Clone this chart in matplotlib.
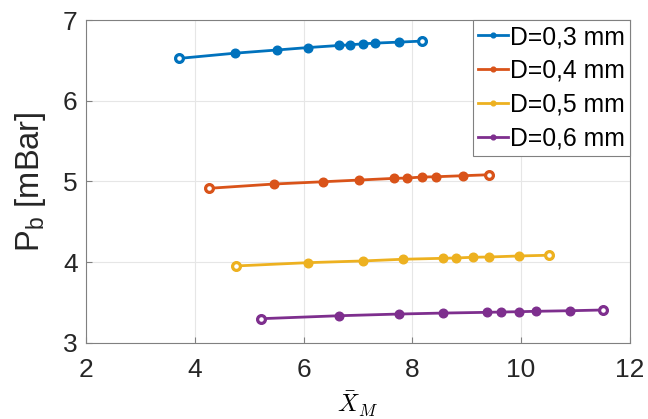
import numpy as np
import matplotlib.pyplot as plt

plt.rcParams['font.family'] = ['Liberation Sans', 'DejaVu Sans']

x03 = [3.71, 4.74, 5.52, 6.09, 6.66, 6.86, 7.09, 7.32, 7.75, 8.18]
p03 = [6.525, 6.59, 6.63, 6.66, 6.686, 6.694, 6.706, 6.715, 6.727, 6.74]
x04 = [4.27, 5.46, 6.36, 7.02, 7.67, 7.90, 8.17, 8.43, 8.94, 9.41]
p04 = [4.915, 4.968, 4.996, 5.017, 5.038, 5.042, 5.054, 5.058, 5.071, 5.083]
x05 = [4.76, 6.09, 7.09, 7.82, 8.57, 8.81, 9.12, 9.41, 9.97, 10.51]
p05 = [3.952, 3.993, 4.014, 4.035, 4.047, 4.051, 4.060, 4.063, 4.076, 4.085]
x06 = [5.21, 6.66, 7.76, 8.56, 9.37, 9.63, 9.97, 10.28, 10.90, 11.50]
p06 = [3.298, 3.335, 3.356, 3.368, 3.377, 3.381, 3.385, 3.390, 3.397, 3.406]

labels = ['D=0,3 mm', 'D=0,4 mm', 'D=0,5 mm', 'D=0,6 mm']
colors = ['#0072BD', '#D95319', '#EDB120', '#7E2F8E']

fig = plt.figure(figsize=(6.48, 4.19), dpi=100)
ax = fig.add_axes([0.1327, 0.182, 0.8393, 0.770])

for xs, ps, lab, c in zip([x03, x04, x05, x06], [p03, p04, p05, p06], labels, colors):
    xs = np.array(xs)
    ps = np.array(ps)
    ax.plot(xs, ps, '-o', color=c, lw=2, ms=6.2, label=lab)
    # end points drawn with white centre
    ax.plot(xs[[0, -1]], ps[[0, -1]], 'o', color=c, mfc='white', mew=2.3, ms=5.6)

ax.set_xlim(2, 12)
ax.set_ylim(3, 7)
ax.set_xticks([2, 4, 6, 8, 10, 12])
ax.set_yticks([3, 4, 5, 6, 7])
ax.grid(True, color='#e6e6e6', lw=0.8)
ax.set_axisbelow(True)
for s in ax.spines.values():
    s.set_color('#808080')
    s.set_linewidth(0.8)
ax.tick_params(labelsize=19, colors='#808080', labelcolor='#262626', length=4, width=0.8,
               direction='in', top=False, right=False)
ax.tick_params(axis='x', pad=11)
ax.tick_params(axis='y', pad=6)
ax.set_xlabel(r'$\bar{X}_M$', fontsize=17.5, math_fontfamily='cm', labelpad=6)
ax.set_ylabel(r'P$_{\mathregular{b}}$ [mBar]', fontsize=23.5, color='#262626', labelpad=11)

leg = ax.legend(loc='upper right', fontsize=17.8, handlelength=1.2, handletextpad=0.1,
                borderpad=0.2, labelspacing=0.4, borderaxespad=0.0, fancybox=False,
                markerscale=0.55)
leg.get_frame().set_edgecolor('#808080')
leg.get_frame().set_linewidth(0.8)
leg.get_frame().set_alpha(1)

fig.savefig('out.png', dpi=100)
